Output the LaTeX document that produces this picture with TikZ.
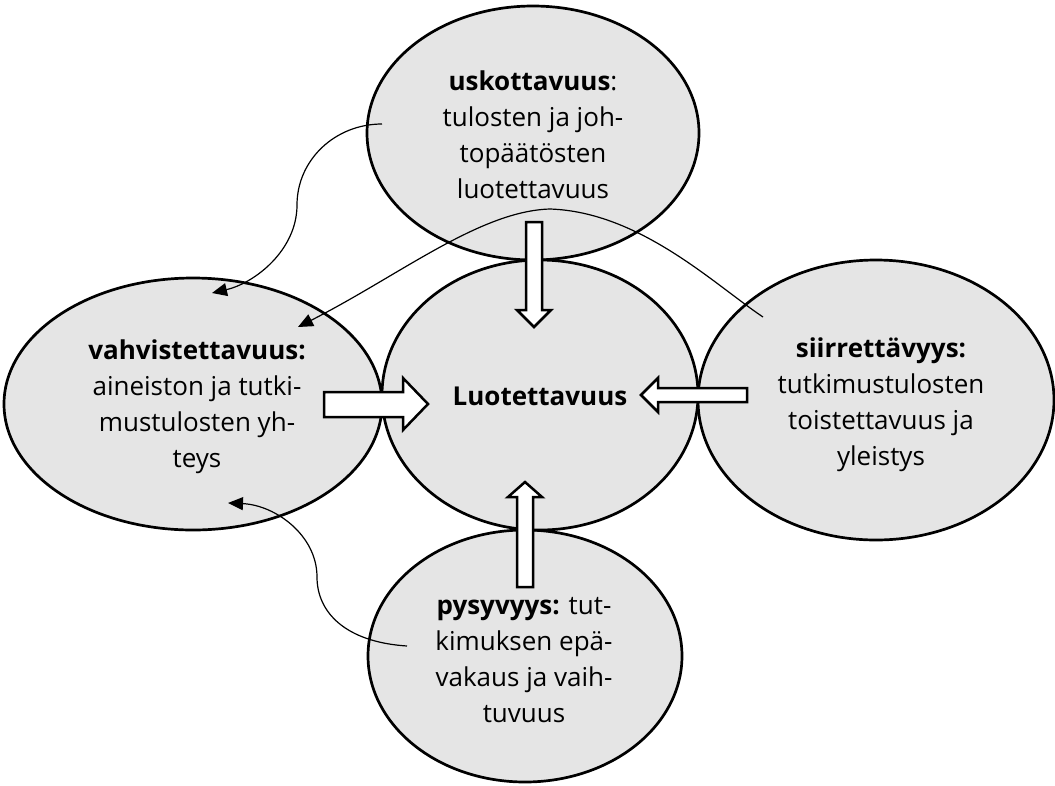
\documentclass[tikz,border=0pt]{standalone}
\usepackage{fontspec}
\setmainfont{Open Sans}
\usetikzlibrary{shapes.geometric,arrows.meta}
\begin{document}
\begin{tikzpicture}[x=1pt,y=-1pt,
  oval/.style={ellipse,draw,line width=2.7pt,fill=black!10,inner sep=0pt},
  txt/.style={align=center,font=\fontsize{26}{36}\selectfont,inner sep=0pt},
  blockarrow/.style={draw,line width=2.5pt,fill=white,line join=miter},
  link/.style={line width=1.2pt,-{Triangle[length=15pt,width=13pt]}}]
\useasboundingbox (0,0) rectangle (1055,785);
% ellipses
\node[oval,minimum width=332pt,minimum height=254pt] (usk) at (533,133) {};
\node[oval,minimum width=378pt,minimum height=252pt] (vah) at (193,404) {};
\node[oval,minimum width=356pt,minimum height=280pt] (sii) at (876,400) {};
\node[oval,minimum width=314pt,minimum height=252pt] (pys) at (525,656) {};
\node[oval,minimum width=316pt,minimum height=270pt] (luo) at (540,395) {};
% texts (anchor base = baseline of last line)
\node[txt,anchor=base] (tusk) at (533,198) {\textbf{uskottavuus}:\\tulosten ja joh-\\topäätösten\\luotettavuus};
\node[txt,anchor=base] (tvah) at (197,467) {\textbf{vahvistettavuus:}\\aineiston ja tutki-\\mustulosten yh-\\teys};
\node[txt,anchor=base] (tsii) at (881,465) {\textbf{siirrettävyys:}\\tutkimustulosten\\toistettavuus ja\\yleistys};
\node[txt,anchor=base] (tpys) at (524,722) {\textbf{pysyvyys:} tut-\\kimuksen epä-\\vakaus ja vaih-\\tuvuus};
\node[txt,anchor=base] (tluo) at (540,405) {\textbf{Luotettavuus}};
% block arrows
\draw[blockarrow] (526,222) -- (542,222) -- (542,310) -- (551,310) -- (534,327) -- (517,310) -- (526,310) -- cycle;
\draw[blockarrow] (517,587) -- (533,587) -- (533,497) -- (542,497) -- (525,482) -- (508,497) -- (517,497) -- cycle;
\draw[blockarrow] (324,392) -- (403,392) -- (403,378) -- (428,404) -- (403,430) -- (403,417) -- (324,417) -- cycle;
\draw[blockarrow] (747,388) -- (658,388) -- (658,378) -- (641,395) -- (658,412) -- (658,402) -- (747,402) -- cycle;
% curved connectors
\coordinate (c1s) at (382,124);
\coordinate (c1e) at (212,293);
\coordinate (c2s) at (763,317);
\coordinate (c2e) at (298,327);
\coordinate (c3s) at (407,646);
\coordinate (c3e) at (228,503);
\draw[link] (c1s) .. controls (335,124) and (297,160) .. (297,205) .. controls (297,250) and (255,283) .. (c1e);
\draw[link] (c2s) .. controls (715,285) and (640,212) .. (550,209) .. controls (480,211) and (400,275) .. (c2e);
\draw[link] (c3s) .. controls (345,642) and (317,612) .. (317,577) .. controls (317,535) and (275,505) .. (c3e);
\end{tikzpicture}
\end{document}
